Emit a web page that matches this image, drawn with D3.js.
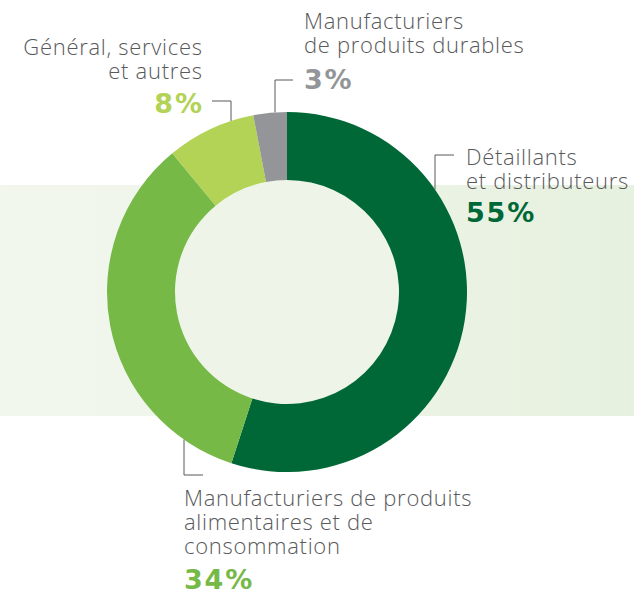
<!DOCTYPE html>
<html>
<head>
<meta charset="utf-8">
<script src="https://cdn.jsdelivr.net/npm/d3@7/dist/d3.min.js"></script>
<style>
  html, body { margin: 0; padding: 0; background: #fff; }
  svg { display: block; }
  .label { font-family: "Open Sans", Lato, sans-serif; }
  .pct { font-family: "DejaVu Sans", sans-serif; }
</style>
</head>
<body>
<svg id="chart" width="634" height="597"></svg>
<script>
// chart data
const categories = [
  'Détaillants et distributeurs',
  'Manufacturiers de produits alimentaires et de consommation',
  'Général, services et autres',
  'Manufacturiers de produits durables'
];
const values = [55, 34, 8, 3];
const colors = ['#006837', '#76b947', '#b2d355', '#939598'];
const labelLines = [
  ['Détaillants', 'et distributeurs'],
  ['Manufacturiers de produits', 'alimentaires et de', 'consommation'],
  ['Général, services', 'et autres'],
  ['Manufacturiers', 'de produits durables']
];

const WIDTH = 634;
const HEIGHT = 597;
const CENTER = { x: 287, y: 292 };
const OUTER = 180;
const INNER = 112;
const TEXT_COLOR = '#58595b';
const LINE_H = 24;
const LABEL_LS = 0.7;
const PCT_LS = 1.8;

// label placement: text anchor point, alignment, leader x (vertical part), elbow y, end of elbow
const LABELS = [
  { x: 466, y: 165, anchor: 'start', leadX: 435, elbowY: 155, elbowTo: 454, pctGap: 33 },
  { x: 184, y: 506, anchor: 'start', leadX: 184, elbowY: 475, elbowTo: 203, pctGap: 35 },
  { x: 202, y: 55, anchor: 'end', leadX: 231, elbowY: 101, elbowTo: 212, pctGap: 34 },
  { x: 304, y: 29, anchor: 'start', leadX: 275, elbowY: 80, elbowTo: 293, pctGap: 36 }
];

const svg = d3.select('#chart');

const defs = svg.append('defs');
const grad = defs.append('linearGradient').attr('id', 'band').attr('x1', '0%').attr('x2', '100%');
grad.append('stop').attr('offset', '0%').attr('stop-color', '#f2f7ee');
grad.append('stop').attr('offset', '100%').attr('stop-color', '#e7f1df');

svg.append('rect')
  .attr('x', 0).attr('y', 185)
  .attr('width', WIDTH).attr('height', 231)
  .attr('fill', 'url(#band)');

const pie = d3.pie().sort(null).value((d) => d)(values);
const arc = d3.arc().innerRadius(INNER).outerRadius(OUTER);

const g = svg.append('g').attr('transform', `translate(${CENTER.x},${CENTER.y})`);

g.append('circle').attr('r', INNER).attr('fill', '#eef5e8');

g.selectAll('path')
  .data(pie)
  .enter()
  .append('path')
  .attr('d', arc)
  .attr('fill', (d, i) => colors[i]);

// leader lines: vertical part ends on the outer edge of the ring
const edgeY = (x, up) => {
  const dx = x - CENTER.x;
  const dy = Math.sqrt(Math.max(0, OUTER * OUTER - dx * dx));
  return up ? CENTER.y - dy : CENTER.y + dy;
};

LABELS.forEach((l, i) => {
  const up = l.elbowY < CENTER.y;
  const y0 = edgeY(l.leadX, up);
  svg.append('path')
    .attr('d', `M${l.elbowTo},${l.elbowY}H${l.leadX}V${y0}`)
    .attr('fill', 'none')
    .attr('stroke', TEXT_COLOR)
    .attr('stroke-width', 1);

  // end-anchored text carries a trailing letter-spacing, push it back
  const end = l.anchor === 'end';
  const tx = end ? l.x + LABEL_LS : l.x;
  const t = svg.append('text')
    .attr('class', 'label')
    .attr('x', tx)
    .attr('y', l.y)
    .attr('text-anchor', l.anchor)
    .attr('fill', TEXT_COLOR)
    .attr('font-size', 22)
    .attr('font-weight', 300)
    .attr('letter-spacing', LABEL_LS);
  labelLines[i].forEach((line, j) => {
    t.append('tspan').attr('x', tx).attr('y', l.y + j * LINE_H).text(line);
  });

  svg.append('text')
    .attr('class', 'pct')
    .attr('x', end ? l.x + PCT_LS : l.x)
    .attr('y', l.y + (labelLines[i].length - 1) * LINE_H + l.pctGap)
    .attr('text-anchor', l.anchor)
    .attr('fill', colors[i])
    .attr('font-size', 27)
    .attr('font-weight', 700)
    .attr('letter-spacing', PCT_LS)
    .text(`${values[i]}%`);
});
</script>
</body>
</html>
